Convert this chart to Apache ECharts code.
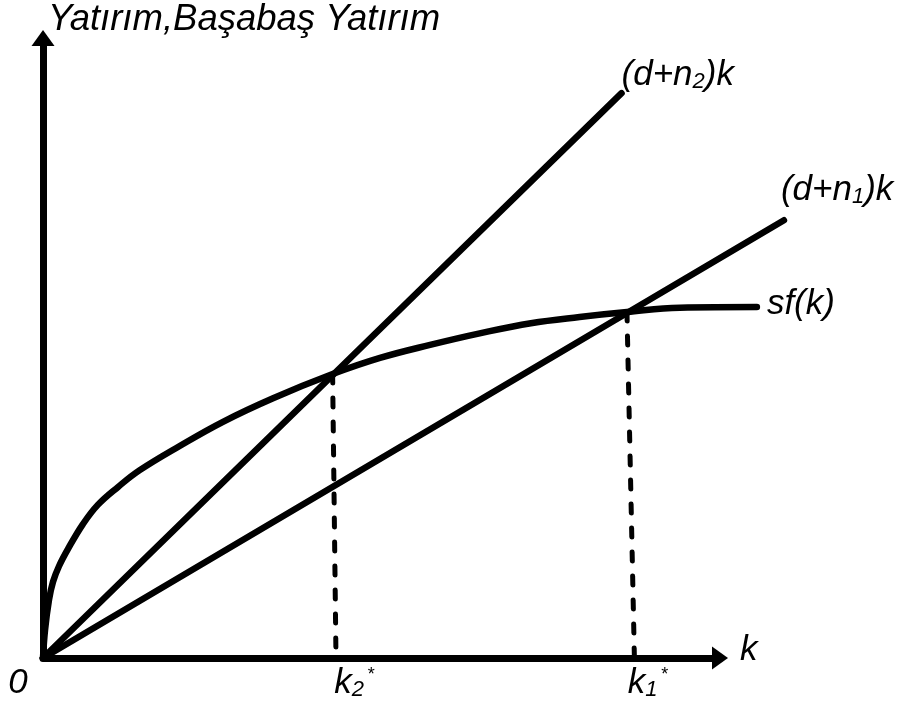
<!DOCTYPE html>
<html>
<head>
<meta charset="utf-8">
<script src="https://cdn.jsdelivr.net/npm/echarts@6/dist/echarts.min.js"></script>
<style>
  html, body {margin: 0; padding: 0; background: #fff;}
  #main {width: 902px; height: 708px;}
</style>
</head>
<body>
<div id="main"></div>
<script>
// sf(k) curve
let sf_k   = [0, 0.03, 0.089, 0.148, 0.236, 0.37, 0.59, 0.81, 1.11, 1.43, 2.02, 2.66, 3.40, 4.28, 4.98, 5.72, 6.47, 7.21, 7.93, 8.63, 9.41, 10.55];
let sf_val = [0, 0.45, 0.94, 1.23, 1.48, 1.76, 2.16, 2.47, 2.76, 3.03, 3.42, 3.81, 4.19, 4.58, 4.84, 5.05, 5.24, 5.40, 5.50, 5.58, 5.65, 5.66];
// break-even lines (d+n)k : start and end points
let n2_k = [0, 8.55], n2_val = [0, 9.11];
let n1_k = [0, 10.95], n1_val = [0, 7.06];
// steady states
let kstar_bottom = [4.33, 8.74];
let kstar_top_k = [4.28, 8.63];
let kstar_top_val = [4.58, 5.58];
let x_ticks = [0, kstar_bottom[0], kstar_bottom[1]];
let x_tick_labels = ['{zero|0}', '{kk2|k}{sub|2}{sup|*}', '{kk1|k}{sub|1}{sup|*}'];

let font = "'Liberation Sans', Arial, sans-serif";
let fs = 35;
let base_txt = {fontSize: fs, fontStyle: 'italic', fontFamily: font, color: '#000'};
let rich_txt = {
    kk2: Object.assign({}, base_txt, {padding: [0, 0, 0, 36]}),
    kk1: Object.assign({}, base_txt, {padding: [0, 0, 0, 26]}),
    sub: {fontSize: 22, fontStyle: 'italic', fontFamily: font, color: '#000', verticalAlign: 'bottom'},
    sup: {fontSize: 18, fontStyle: 'italic', fontFamily: font, color: '#000', verticalAlign: 'top', padding: [0, 0, 0, 3]},
    zero: Object.assign({}, base_txt, {padding: [0, 50, 0, 0]}),
    kname: Object.assign({}, base_txt, {padding: [0, 0, 16, 0]})
};

function pairs(xs, ys){
    return xs.map(function(x, i){ return [x, ys[i]]; });
}

function end_label(txt, dist, off){
    return Object.assign({show: true, distance: dist, offset: off, formatter: txt, rich: rich_txt}, base_txt);
}

let line_style = {color: '#000', width: 6.5, cap: 'round'};
let dash_style = {color: '#000', width: 5, type: [9, 15], cap: 'round'};

let chart = echarts.init(document.getElementById('main'));
let option = {
    animation: false,
    grid: [
        {left: 43, right: 182, top: 38, bottom: 50},
        {left: 43, right: 47, top: 38, bottom: 50}
    ],
    xAxis: [
        {
            type: 'value', min: 0, max: 10, gridIndex: 0,
            name: '{kname|k}', nameLocation: 'end', nameGap: 20,
            nameTextStyle: Object.assign({verticalAlign: 'middle', rich: rich_txt}, base_txt),
            axisLine: {lineStyle: {color: '#000', width: 7}, symbol: ['none', 'triangle'], symbolSize: [23, 16]},
            axisTick: {show: false},
            splitLine: {show: false},
            axisLabel: {
                customValues: x_ticks, margin: 8,
                formatter: function(v){ return x_tick_labels[x_ticks.indexOf(v)]; },
                rich: rich_txt
            }
        },
        {type: 'value', min: 0, max: 12, gridIndex: 1, show: false}
    ],
    yAxis: [
        {
            type: 'value', min: 0, max: 10, gridIndex: 0,
            name: 'Yatırım,Başabaş Yatırım', nameLocation: 'end', nameGap: 0,
            nameTextStyle: {fontSize: 36.5, fontStyle: 'italic', fontFamily: font, color: '#000', align: 'left', padding: [0, 0, 0, 5]},
            axisLine: {lineStyle: {color: '#000', width: 7}, symbol: ['none', 'triangle'], symbolSize: [23, 16]},
            axisTick: {show: false},
            splitLine: {show: false},
            axisLabel: {show: false}
        },
        {type: 'value', min: 0, max: 10, gridIndex: 1, show: false}
    ],
    series: [
        {
            name: 'sf(k)', type: 'line', smooth: 0.4, symbol: 'none',
            xAxisIndex: 1, yAxisIndex: 1,
            lineStyle: line_style,
            endLabel: end_label('sf(k)', 10, [0, -3]),
            data: pairs(sf_k, sf_val)
        },
        {
            name: '(d+n2)k', type: 'line', symbol: 'none',
            xAxisIndex: 1, yAxisIndex: 1,
            lineStyle: line_style,
            endLabel: end_label('(d+n{sub|2})k', 0, [0, -18]),
            data: pairs(n2_k, n2_val)
        },
        {
            name: '(d+n1)k', type: 'line', symbol: 'none',
            xAxisIndex: 1, yAxisIndex: 1,
            lineStyle: line_style,
            endLabel: end_label('(d+n{sub|1})k', 0, [-3, -30]),
            data: pairs(n1_k, n1_val)
        },
        {
            name: 'k2', type: 'line', symbol: 'none',
            xAxisIndex: 1, yAxisIndex: 1,
            lineStyle: dash_style,
            data: [[kstar_top_k[0], kstar_top_val[0]], [kstar_bottom[0], 0]]
        },
        {
            name: 'k1', type: 'line', symbol: 'none',
            xAxisIndex: 1, yAxisIndex: 1,
            lineStyle: dash_style,
            data: [[kstar_top_k[1], kstar_top_val[1]], [kstar_bottom[1], 0]]
        }
    ]
};
chart.setOption(option);
window.onresize = chart.resize;
</script>
</body>
</html>
